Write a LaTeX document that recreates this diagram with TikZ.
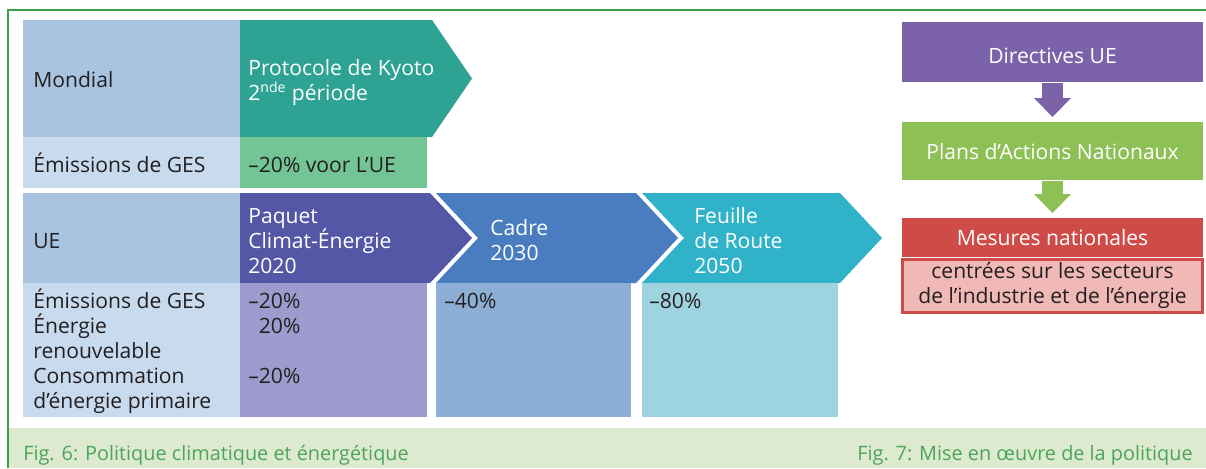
\documentclass[tikz,border=0pt]{standalone}
\usepackage{fontspec}
\setmainfont{Open Sans}
\usepackage{tikz}
\usetikzlibrary{arrows.meta}
\definecolor{frm}{HTML}{3AA146}
\definecolor{capt}{HTML}{4CA55B}
\definecolor{band}{HTML}{DDEACF}
\definecolor{ink}{HTML}{231F20}
\definecolor{colA}{HTML}{A9C4E0}
\definecolor{colB}{HTML}{C8DAEE}
\definecolor{kyo}{HTML}{2EA293}
\definecolor{kyoL}{HTML}{74C595}
\definecolor{paq}{HTML}{5357A6}
\definecolor{paqL}{HTML}{9D9BCD}
\definecolor{cad}{HTML}{4A7DC0}
\definecolor{cadL}{HTML}{8DAFD6}
\definecolor{feu}{HTML}{30B2C9}
\definecolor{feuL}{HTML}{9DD4E0}
\definecolor{dirc}{HTML}{7C62A9}
\definecolor{plan}{HTML}{8DC055}
\definecolor{mes}{HTML}{CF4B48}
\definecolor{mesL}{HTML}{F1B9B6}

\begin{document}
\begin{tikzpicture}[x=0.02cm,y=-0.02cm,
    lbl/.style={anchor=base west,inner sep=0pt,align=left,text=ink,
      font=\fontsize{12}{14.2}\selectfont},
    wlbl/.style={lbl,text=white},
    box/.style={inner sep=0pt,minimum width=6.02cm,text=white,
      font=\fontsize{12}{14.2}\selectfont},
    down/.style={line width=0.42cm,shorten >=0.1cm,
      -{Triangle[width=0.74cm,length=0.38cm,line width=0pt]}}]
    \useasboundingbox (0,0) rectangle (1206,468);

    \fill[band] (8,428) rectangle (1206,468);
    \draw[frm,line width=1.1pt] (8,468) -- (8,10) -- (1206,10);

    \fill[colA] (23,20) rectangle (240,137); \fill[colB] (23,137) rectangle (240,188);
    \fill[kyo] (240,20) -- (432,20) -- (472,78.5) -- (432,137) -- (240,137) -- cycle;
    \fill[kyoL] (240,137) rectangle (427,188);

    \fill[colA] (23,193) rectangle (240,283); \fill[colB] (23,283) rectangle (240,417);
    \fill[paq] (240,193) -- (430,193) -- (472,238) -- (430,283) -- (240,283) -- cycle;
    \fill[cad] (436,193) -- (636,193) -- (678,238) -- (636,283) -- (436,283) -- (478,238) -- cycle;
    \fill[feu] (642,193) -- (840,193) -- (882,238) -- (840,283) -- (642,283) -- (684,238) -- cycle;
    \fill[paqL] (240,283) rectangle (427,417); \fill[cadL] (436,283) rectangle (631,417);
    \fill[feuL] (642,283) rectangle (838,417);

    \node[lbl] (m0) at (33,87) {Mondial};
    \node[lbl] (m1) at (33,172) {Émissions de GES};
    \node[wlbl] (t0) at (248,100) {Protocole de Kyoto\\2\textsuperscript{nde} période};
    \node[lbl] (t1) at (248,172) {–20\% voor L’UE};
    \node[lbl] (e0) at (33,248) {UE};
    \node[lbl] (e1) at (33,408) {Émissions de GES\\Énergie\\renouvelable\\Consommation\\d’énergie primaire};
    \node[wlbl] (p0) at (248,273) {Paquet\\Climat-Énergie\\2020};
    \node[lbl] (p1) at (248,383) {–20\%\\\phantom{–}20\%\\\mbox{}\\–20\%};
    \node[wlbl] (c0) at (490,260) {Cadre\\2030}; \node[lbl] (c1) at (444,308) {–40\%};
    \node[wlbl] (f0) at (694,273) {Feuille\\de Route\\2050}; \node[lbl] (f1) at (649,308) {–80\%};

    \node[box,fill=dirc,text height=0.82cm,text depth=0.38cm,anchor=north] (d0) at (1052.5,22) {Directives UE};
    \node[box,fill=plan,text height=0.74cm,text depth=0.42cm,anchor=north] (d1) at (1052.5,122) {Plans d’Actions Nationaux};
    \node[box,fill=mes,text height=0.54cm,text depth=0.24cm,anchor=north] (d2) at (1052.5,218) {Mesures nationales};
    \node[box,fill=mesL,draw=mes,line width=1.7pt,minimum width=6.02cm,minimum height=1.06cm,anchor=north] (d3) at (d2.south) {};
    \node[lbl,anchor=base,align=center] (d4) at (1052.5,303) {centrées sur les secteurs\\de l’industrie et de l’énergie};
    \draw[down,dirc] (d0.south) -- (d1.north); \draw[down,plan] (d1.south) -- (d2.north);

    \node[lbl,text=capt,font=\fontsize{11.3}{14.2}\selectfont] (g0) at (23,460) {Fig. 6: Politique climatique et énergétique};
    \node[lbl,text=capt,font=\fontsize{11.3}{14.2}\selectfont,anchor=base east] (g1) at (1193,460) {Fig. 7: Mise en œuvre de la politique};
  \end{tikzpicture}
\end{document}
